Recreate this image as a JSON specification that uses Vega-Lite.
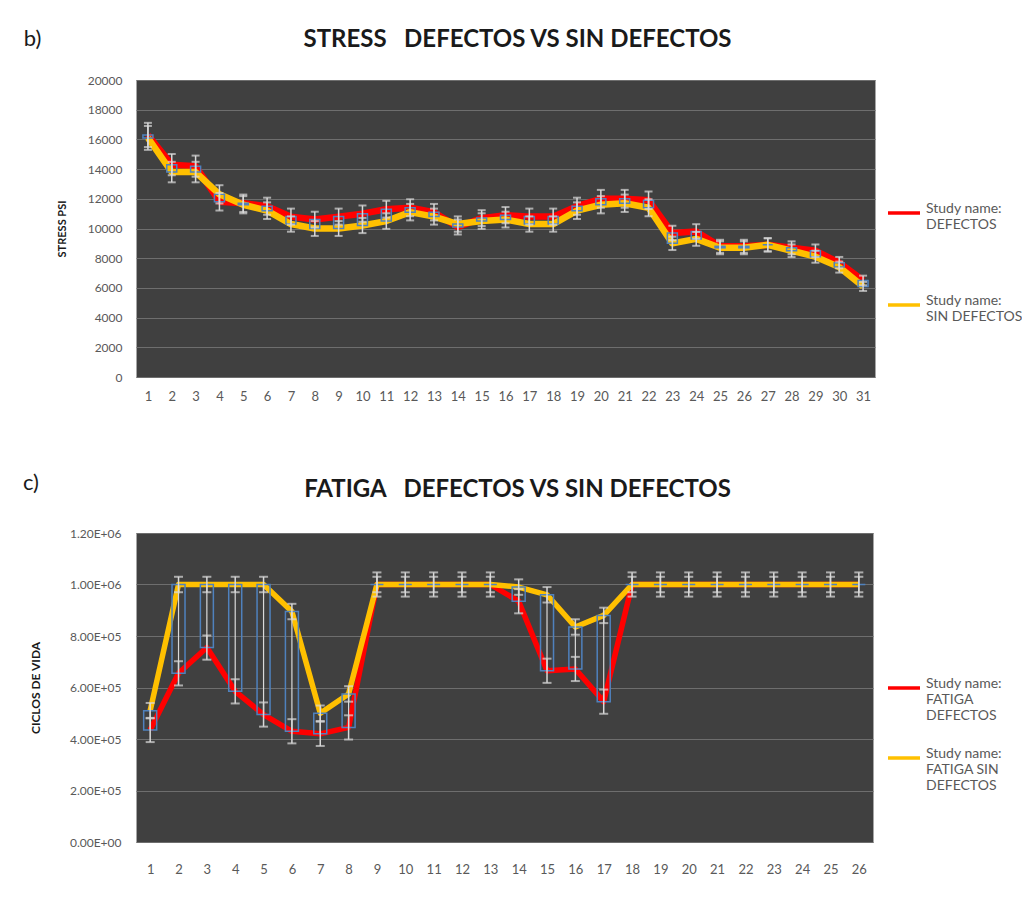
{
  "$schema": "https://vega.github.io/schema/vega-lite/v6.json",
  "background": "white",
  "padding": {"left": 22, "top": 27, "right": 0, "bottom": 0},
  "config": {
    "font": "Lato",
    "view": {"fill": "#404040", "stroke": "#a6a6a6", "strokeWidth": 1},
    "title": {"font": "Lato", "color": "#1a1a1a"},
    "axisY": {"grid": true, "gridColor": "#6e6e6e", "domain": false, "ticks": false, "labelOverlap": false, "labelColor": "#595959", "labelFontSize": 12, "titleFontWeight": "bold", "titleColor": "#1a1a1a"},
    "axisX": {"labelAngle": 0, "ticks": false, "domain": false, "grid": false, "labelOverlap": false, "labelColor": "#595959", "labelFontSize": 13}
  },
  "resolve": {"scale": {"color": "independent"}, "legend": {"color": "independent"}},
  "datasets": {
    "stress": [
      {"n": 1, "serie": "DEFECTOS", "v": 16300, "e": 815}, {"n": 1, "serie": "SIN DEFECTOS", "v": 16100, "e": 805},
      {"n": 2, "serie": "DEFECTOS", "v": 14300, "e": 715}, {"n": 2, "serie": "SIN DEFECTOS", "v": 13800, "e": 690},
      {"n": 3, "serie": "DEFECTOS", "v": 14200, "e": 710}, {"n": 3, "serie": "SIN DEFECTOS", "v": 13800, "e": 690},
      {"n": 4, "serie": "DEFECTOS", "v": 11800, "e": 590}, {"n": 4, "serie": "SIN DEFECTOS", "v": 12300, "e": 615},
      {"n": 5, "serie": "DEFECTOS", "v": 11700, "e": 585}, {"n": 5, "serie": "SIN DEFECTOS", "v": 11600, "e": 580},
      {"n": 6, "serie": "DEFECTOS", "v": 11500, "e": 575}, {"n": 6, "serie": "SIN DEFECTOS", "v": 11200, "e": 560},
      {"n": 7, "serie": "DEFECTOS", "v": 10800, "e": 540}, {"n": 7, "serie": "SIN DEFECTOS", "v": 10300, "e": 515},
      {"n": 8, "serie": "DEFECTOS", "v": 10600, "e": 530}, {"n": 8, "serie": "SIN DEFECTOS", "v": 10000, "e": 500},
      {"n": 9, "serie": "DEFECTOS", "v": 10800, "e": 540}, {"n": 9, "serie": "SIN DEFECTOS", "v": 10000, "e": 500},
      {"n": 10, "serie": "DEFECTOS", "v": 11000, "e": 550}, {"n": 10, "serie": "SIN DEFECTOS", "v": 10200, "e": 510},
      {"n": 11, "serie": "DEFECTOS", "v": 11300, "e": 565}, {"n": 11, "serie": "SIN DEFECTOS", "v": 10500, "e": 525},
      {"n": 12, "serie": "DEFECTOS", "v": 11400, "e": 570}, {"n": 12, "serie": "SIN DEFECTOS", "v": 11100, "e": 555},
      {"n": 13, "serie": "DEFECTOS", "v": 11100, "e": 555}, {"n": 13, "serie": "SIN DEFECTOS", "v": 10800, "e": 540},
      {"n": 14, "serie": "DEFECTOS", "v": 10100, "e": 505}, {"n": 14, "serie": "SIN DEFECTOS", "v": 10300, "e": 515},
      {"n": 15, "serie": "DEFECTOS", "v": 10700, "e": 535}, {"n": 15, "serie": "SIN DEFECTOS", "v": 10500, "e": 525},
      {"n": 16, "serie": "DEFECTOS", "v": 10900, "e": 545}, {"n": 16, "serie": "SIN DEFECTOS", "v": 10600, "e": 530},
      {"n": 17, "serie": "DEFECTOS", "v": 10800, "e": 540}, {"n": 17, "serie": "SIN DEFECTOS", "v": 10300, "e": 515},
      {"n": 18, "serie": "DEFECTOS", "v": 10800, "e": 540}, {"n": 18, "serie": "SIN DEFECTOS", "v": 10300, "e": 515},
      {"n": 19, "serie": "DEFECTOS", "v": 11500, "e": 575}, {"n": 19, "serie": "SIN DEFECTOS", "v": 11200, "e": 560},
      {"n": 20, "serie": "DEFECTOS", "v": 12000, "e": 600}, {"n": 20, "serie": "SIN DEFECTOS", "v": 11600, "e": 580},
      {"n": 21, "serie": "DEFECTOS", "v": 12000, "e": 600}, {"n": 21, "serie": "SIN DEFECTOS", "v": 11700, "e": 585},
      {"n": 22, "serie": "DEFECTOS", "v": 11900, "e": 595}, {"n": 22, "serie": "SIN DEFECTOS", "v": 11400, "e": 570},
      {"n": 23, "serie": "DEFECTOS", "v": 9700, "e": 485}, {"n": 23, "serie": "SIN DEFECTOS", "v": 9000, "e": 450},
      {"n": 24, "serie": "DEFECTOS", "v": 9800, "e": 490}, {"n": 24, "serie": "SIN DEFECTOS", "v": 9300, "e": 465},
      {"n": 25, "serie": "DEFECTOS", "v": 8800, "e": 440}, {"n": 25, "serie": "SIN DEFECTOS", "v": 8700, "e": 435},
      {"n": 26, "serie": "DEFECTOS", "v": 8800, "e": 440}, {"n": 26, "serie": "SIN DEFECTOS", "v": 8700, "e": 435},
      {"n": 27, "serie": "DEFECTOS", "v": 8900, "e": 445}, {"n": 27, "serie": "SIN DEFECTOS", "v": 8900, "e": 445},
      {"n": 28, "serie": "DEFECTOS", "v": 8700, "e": 435}, {"n": 28, "serie": "SIN DEFECTOS", "v": 8500, "e": 425},
      {"n": 29, "serie": "DEFECTOS", "v": 8500, "e": 425}, {"n": 29, "serie": "SIN DEFECTOS", "v": 8100, "e": 405},
      {"n": 30, "serie": "DEFECTOS", "v": 7700, "e": 385}, {"n": 30, "serie": "SIN DEFECTOS", "v": 7400, "e": 370},
      {"n": 31, "serie": "DEFECTOS", "v": 6500, "e": 325}, {"n": 31, "serie": "SIN DEFECTOS", "v": 6100, "e": 305}
    ],
    "fatiga": [
      {"n": 1, "serie": "FATIGA DEFECTOS", "v": 435000, "e": 47000}, {"n": 1, "serie": "FATIGA SIN DEFECTOS", "v": 510000, "e": 30000},
      {"n": 2, "serie": "FATIGA DEFECTOS", "v": 655000, "e": 47000}, {"n": 2, "serie": "FATIGA SIN DEFECTOS", "v": 1000000, "e": 30000},
      {"n": 3, "serie": "FATIGA DEFECTOS", "v": 755000, "e": 47000}, {"n": 3, "serie": "FATIGA SIN DEFECTOS", "v": 1000000, "e": 30000},
      {"n": 4, "serie": "FATIGA DEFECTOS", "v": 585000, "e": 47000}, {"n": 4, "serie": "FATIGA SIN DEFECTOS", "v": 1000000, "e": 30000},
      {"n": 5, "serie": "FATIGA DEFECTOS", "v": 495000, "e": 47000}, {"n": 5, "serie": "FATIGA SIN DEFECTOS", "v": 1000000, "e": 30000},
      {"n": 6, "serie": "FATIGA DEFECTOS", "v": 430000, "e": 47000}, {"n": 6, "serie": "FATIGA SIN DEFECTOS", "v": 895000, "e": 30000},
      {"n": 7, "serie": "FATIGA DEFECTOS", "v": 420000, "e": 47000}, {"n": 7, "serie": "FATIGA SIN DEFECTOS", "v": 500000, "e": 30000},
      {"n": 8, "serie": "FATIGA DEFECTOS", "v": 445000, "e": 47000}, {"n": 8, "serie": "FATIGA SIN DEFECTOS", "v": 575000, "e": 30000},
      {"n": 9, "serie": "FATIGA DEFECTOS", "v": 1000000, "e": 47000}, {"n": 9, "serie": "FATIGA SIN DEFECTOS", "v": 1000000, "e": 30000},
      {"n": 10, "serie": "FATIGA DEFECTOS", "v": 1000000, "e": 47000}, {"n": 10, "serie": "FATIGA SIN DEFECTOS", "v": 1000000, "e": 30000},
      {"n": 11, "serie": "FATIGA DEFECTOS", "v": 1000000, "e": 47000}, {"n": 11, "serie": "FATIGA SIN DEFECTOS", "v": 1000000, "e": 30000},
      {"n": 12, "serie": "FATIGA DEFECTOS", "v": 1000000, "e": 47000}, {"n": 12, "serie": "FATIGA SIN DEFECTOS", "v": 1000000, "e": 30000},
      {"n": 13, "serie": "FATIGA DEFECTOS", "v": 1000000, "e": 47000}, {"n": 13, "serie": "FATIGA SIN DEFECTOS", "v": 1000000, "e": 30000},
      {"n": 14, "serie": "FATIGA DEFECTOS", "v": 935000, "e": 47000}, {"n": 14, "serie": "FATIGA SIN DEFECTOS", "v": 990000, "e": 30000},
      {"n": 15, "serie": "FATIGA DEFECTOS", "v": 665000, "e": 47000}, {"n": 15, "serie": "FATIGA SIN DEFECTOS", "v": 960000, "e": 30000},
      {"n": 16, "serie": "FATIGA DEFECTOS", "v": 672000, "e": 47000}, {"n": 16, "serie": "FATIGA SIN DEFECTOS", "v": 835000, "e": 30000},
      {"n": 17, "serie": "FATIGA DEFECTOS", "v": 545000, "e": 47000}, {"n": 17, "serie": "FATIGA SIN DEFECTOS", "v": 880000, "e": 30000},
      {"n": 18, "serie": "FATIGA DEFECTOS", "v": 1000000, "e": 47000}, {"n": 18, "serie": "FATIGA SIN DEFECTOS", "v": 1000000, "e": 30000},
      {"n": 19, "serie": "FATIGA DEFECTOS", "v": 1000000, "e": 47000}, {"n": 19, "serie": "FATIGA SIN DEFECTOS", "v": 1000000, "e": 30000},
      {"n": 20, "serie": "FATIGA DEFECTOS", "v": 1000000, "e": 47000}, {"n": 20, "serie": "FATIGA SIN DEFECTOS", "v": 1000000, "e": 30000},
      {"n": 21, "serie": "FATIGA DEFECTOS", "v": 1000000, "e": 47000}, {"n": 21, "serie": "FATIGA SIN DEFECTOS", "v": 1000000, "e": 30000},
      {"n": 22, "serie": "FATIGA DEFECTOS", "v": 1000000, "e": 47000}, {"n": 22, "serie": "FATIGA SIN DEFECTOS", "v": 1000000, "e": 30000},
      {"n": 23, "serie": "FATIGA DEFECTOS", "v": 1000000, "e": 47000}, {"n": 23, "serie": "FATIGA SIN DEFECTOS", "v": 1000000, "e": 30000},
      {"n": 24, "serie": "FATIGA DEFECTOS", "v": 1000000, "e": 47000}, {"n": 24, "serie": "FATIGA SIN DEFECTOS", "v": 1000000, "e": 30000},
      {"n": 25, "serie": "FATIGA DEFECTOS", "v": 1000000, "e": 47000}, {"n": 25, "serie": "FATIGA SIN DEFECTOS", "v": 1000000, "e": 30000},
      {"n": 26, "serie": "FATIGA DEFECTOS", "v": 1000000, "e": 47000}, {"n": 26, "serie": "FATIGA SIN DEFECTOS", "v": 1000000, "e": 30000}
    ]
  },
  "spacing": 67,
  "vconcat": [
    {
      "title": {"text": "b)", "anchor": "start", "frame": "bounds", "fontSize": 22, "fontWeight": "normal", "offset": -23, "dx": -32},
      "vconcat": [
        {
          "width": 739,
          "height": 297,
          "data": {"name": "stress"},
          "title": {"text": "STRESS\u00a0\u00a0 DEFECTOS VS SIN DEFECTOS", "anchor": "middle", "frame": "group", "fontSize": 24, "fontWeight": "bold", "offset": 22, "dx": 12},
          "encoding": {
            "x": {
              "field": "n", "type": "ordinal", "title": null,
              "scale": {"type": "point", "padding": 0.5},
              "axis": {"labelPadding": 13}
            }
          },
          "layer": [
            {
              "mark": {"type": "line", "strokeWidth": 6.5, "strokeJoin": "round"},
              "encoding": {
                "y": {
                  "field": "v", "type": "quantitative", "title": "STRESS PSI",
                  "scale": {"domain": [0, 20000]},
                  "axis": {"values": [0, 2000, 4000, 6000, 8000, 10000, 12000, 14000, 16000, 18000, 20000], "format": "d", "labelPadding": 14, "titleFontSize": 11, "titlePadding": 20}
                },
                "color": {
                  "field": "serie", "type": "nominal",
                  "scale": {"domain": ["DEFECTOS", "SIN DEFECTOS"], "range": ["#ff0000", "#ffc000"]},
                  "legend": {"orient": "none", "legendX": 750, "legendY": 115, "title": null, "padding": 0, "symbolType": "stroke", "symbolSize": 1024, "symbolStrokeWidth": 3.5, "labelFontSize": 14, "labelColor": "#595959", "labelOffset": 4, "rowPadding": 55, "labelBaseline": "alphabetic", "labelExpr": "['Study name:', datum.label]"}
                }
              }
            },
            {
              "transform": [{"pivot": "serie", "value": "v", "groupby": ["n"]}],
              "mark": {"type": "rule", "color": "#d9d9d9", "strokeWidth": 1.2},
              "encoding": {
                "y": {"field": "DEFECTOS", "type": "quantitative", "title": "STRESS PSI", "axis": {"values": [0, 2000, 4000, 6000, 8000, 10000, 12000, 14000, 16000, 18000, 20000], "format": "d", "labelPadding": 14, "titleFontSize": 11, "titlePadding": 20}},
                "y2": {"field": "SIN DEFECTOS"}
              }
            },
            {
              "transform": [{"pivot": "serie", "value": "v", "groupby": ["n"]}],
              "mark": {"type": "bar", "width": 10, "fill": "transparent", "stroke": "#4f81bd", "strokeWidth": 1.5},
              "encoding": {
                "y": {"field": "DEFECTOS", "type": "quantitative", "title": "STRESS PSI", "axis": {"values": [0, 2000, 4000, 6000, 8000, 10000, 12000, 14000, 16000, 18000, 20000], "format": "d", "labelPadding": 14, "titleFontSize": 11, "titlePadding": 20}},
                "y2": {"field": "SIN DEFECTOS"}
              }
            },
            {
              "mark": {"type": "errorbar", "color": "#d9d9d9", "ticks": {"size": 8, "thickness": 2}, "rule": {"strokeWidth": 1.5}},
              "encoding": {
                "y": {"field": "v", "type": "quantitative", "title": "STRESS PSI", "axis": {"values": [0, 2000, 4000, 6000, 8000, 10000, 12000, 14000, 16000, 18000, 20000], "format": "d", "labelPadding": 14, "titleFontSize": 11, "titlePadding": 20}},
                "yError": {"field": "e"},
                "detail": {"field": "serie"}
              }
            }
          ]
        }
      ]
    },
    {
      "title": {"text": "c)", "anchor": "start", "frame": "bounds", "fontSize": 22, "fontWeight": "normal", "offset": -17, "dx": -6},
      "vconcat": [
        {
          "width": 737,
          "height": 309,
          "data": {"name": "fatiga"},
          "title": {"text": "FATIGA\u00a0\u00a0 DEFECTOS VS SIN DEFECTOS", "anchor": "middle", "frame": "group", "fontSize": 24, "fontWeight": "bold", "offset": 25, "dx": 13},
          "encoding": {
            "x": {
              "field": "n", "type": "ordinal", "title": null,
              "scale": {"type": "point", "padding": 0.5},
              "axis": {"labelPadding": 21}
            }
          },
          "layer": [
            {
              "mark": {"type": "line", "strokeWidth": 5.5, "strokeJoin": "round"},
              "encoding": {
                "y": {
                  "field": "v", "type": "quantitative", "title": "CICLOS DE VIDA",
                  "scale": {"domain": [0, 1200000]},
                  "axis": {"values": [0, 200000, 400000, 600000, 800000, 1000000, 1200000], "labelExpr": "replace(format(datum.value, '.2e'), 'e+', 'E+0')", "labelPadding": 15, "titleFontSize": 12, "titlePadding": 27}
                },
                "color": {
                  "field": "serie", "type": "nominal",
                  "scale": {"domain": ["FATIGA DEFECTOS", "FATIGA SIN DEFECTOS"], "range": ["#ff0000", "#ffc000"]},
                  "legend": {"orient": "none", "legendX": 750, "legendY": 137, "title": null, "padding": 0, "symbolType": "stroke", "symbolSize": 1024, "symbolStrokeWidth": 3.5, "labelFontSize": 14, "labelColor": "#595959", "labelOffset": 4, "rowPadding": 17, "labelBaseline": "alphabetic", "labelExpr": "datum.label == 'FATIGA DEFECTOS' ? ['Study name:', 'FATIGA', 'DEFECTOS'] : ['Study name:', 'FATIGA SIN', 'DEFECTOS']"}
                }
              }
            },
            {
              "transform": [{"pivot": "serie", "value": "v", "groupby": ["n"]}],
              "mark": {"type": "rule", "color": "#d9d9d9", "strokeWidth": 1.2},
              "encoding": {
                "y": {"field": "FATIGA DEFECTOS", "type": "quantitative", "title": "CICLOS DE VIDA", "axis": {"values": [0, 200000, 400000, 600000, 800000, 1000000, 1200000], "labelExpr": "replace(format(datum.value, '.2e'), 'e+', 'E+0')", "labelPadding": 15, "titleFontSize": 12, "titlePadding": 27}},
                "y2": {"field": "FATIGA SIN DEFECTOS"}
              }
            },
            {
              "transform": [{"pivot": "serie", "value": "v", "groupby": ["n"]}],
              "mark": {"type": "bar", "width": 13, "fill": "transparent", "stroke": "#4f81bd", "strokeWidth": 1.5},
              "encoding": {
                "y": {"field": "FATIGA DEFECTOS", "type": "quantitative", "title": "CICLOS DE VIDA", "axis": {"values": [0, 200000, 400000, 600000, 800000, 1000000, 1200000], "labelExpr": "replace(format(datum.value, '.2e'), 'e+', 'E+0')", "labelPadding": 15, "titleFontSize": 12, "titlePadding": 27}},
                "y2": {"field": "FATIGA SIN DEFECTOS"}
              }
            },
            {
              "mark": {"type": "errorbar", "color": "#d9d9d9", "ticks": {"size": 9, "thickness": 2}, "rule": {"strokeWidth": 1.5}},
              "encoding": {
                "y": {"field": "v", "type": "quantitative", "title": "CICLOS DE VIDA", "axis": {"values": [0, 200000, 400000, 600000, 800000, 1000000, 1200000], "labelExpr": "replace(format(datum.value, '.2e'), 'e+', 'E+0')", "labelPadding": 15, "titleFontSize": 12, "titlePadding": 27}},
                "yError": {"field": "e"},
                "detail": {"field": "serie"}
              }
            }
          ]
        }
      ]
    }
  ]
}
